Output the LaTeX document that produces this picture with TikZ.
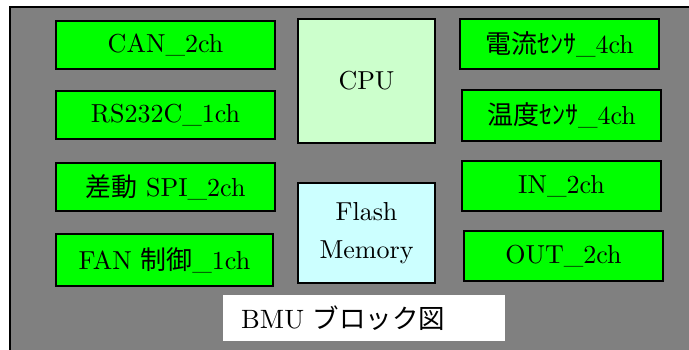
\documentclass[tikz,border=0pt]{standalone}
\usepackage{fontspec}
\setmainfont{lmroman10-regular.otf}
\newfontfamily\jp{Noto Sans CJK JP}
\definecolor{bggray}{HTML}{808080}
\definecolor{boxgreen}{HTML}{00FF00}
\definecolor{cpugreen}{HTML}{CCFFCC}
\definecolor{flashcyan}{HTML}{CCFFFF}
\tikzset{
  blk/.style={draw=black, line width=1.6pt, fill=boxgreen, inner sep=0pt,
    font=\fontsize{26}{30}\selectfont},
  chip/.style={draw=black, line width=1.6pt, inner sep=0pt, align=center,
    font=\fontsize{26}{38}\selectfont}
}
\begin{document}
\begin{tikzpicture}[x=1pt,y=-1pt]
\useasboundingbox (0,0) rectangle (689,349);
\fill[white] (0,0) rectangle (689,349);
\begin{scope}
\clip (0,0) rectangle (689,349);
\draw[line width=1.6pt, fill=bggray] (10,7) rectangle (700,360);
\end{scope}
\node[blk, minimum width=219pt, minimum height=48pt] (can) at (165.5,45) {CAN\_2ch};
\node[blk, minimum width=219pt, minimum height=48pt] (rs) at (165.5,115) {RS232C\_1ch};
\node[blk, minimum width=219pt, minimum height=48pt] (spi) at (165.5,187) {{\jp 差動} SPI\_2ch};
\node[blk, minimum width=217pt, minimum height=52pt] (fan) at (164.5,260) {FAN {\jp 制御}\_1ch};
\node[chip, fill=cpugreen, minimum width=137pt, minimum height=124pt] (cpu) at (366.5,81) {CPU};
\node[chip, fill=flashcyan, minimum width=137pt, minimum height=100pt] (flash) at (366.5,233) {Flash\\Memory};
\node[blk, minimum width=199pt, minimum height=50pt] (cur) at (559.5,44) {{\jp 電流ｾﾝｻ}\_4ch};
\node[blk, minimum width=199pt, minimum height=51pt] (temp) at (561.5,115.5) {{\jp 温度ｾﾝｻ}\_4ch};
\node[blk, minimum width=199pt, minimum height=50pt] (in) at (561.5,186) {IN\_2ch};
\node[blk, minimum width=199pt, minimum height=50pt] (out) at (563.5,256) {OUT\_2ch};
\node[fill=white, minimum width=282pt, minimum height=46pt, inner sep=0pt] (titlebox) at (364,318) {};
\node[anchor=west, inner sep=0pt, font=\fontsize{26.5}{30}\selectfont] (title) at (241,318) {BMU {\jp ブロック図}};
\end{tikzpicture}
\end{document}
